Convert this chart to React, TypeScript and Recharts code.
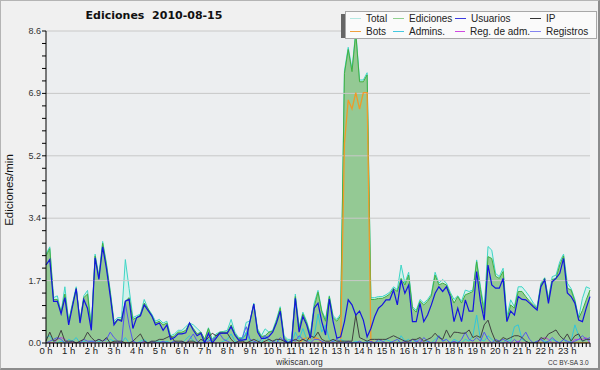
import { ComposedChart, Area, Line, XAxis, YAxis, CartesianGrid, ReferenceLine } from 'recharts';

// 10-minute buckets, 0 h .. 24 h
const hourLabels = [
    '0 h', '1 h', '2 h', '3 h', '4 h', '5 h', '6 h', '7 h', '8 h', '9 h', '10 h', '11 h',
    '12 h', '13 h', '14 h', '15 h', '16 h', '17 h', '18 h', '19 h', '20 h', '21 h', '22 h', '23 h',
];
const yLabels = ['0.0', '1.7', '3.4', '5.2', '6.9', '8.6'];
const yMajor = [0, 1.72, 3.44, 5.16, 6.88, 8.6];
const yMax = 8.6;

const total = [
    2.45, 2.65, 1.25, 1.3, 0.85, 1.55, 0.6, 1.1, 1.55, 0.6, 1.3, 1.45,
    0.45, 2.45, 1.85, 2.8, 2.2, 1.45, 0.6, 0.7, 0.7, 2.3, 1.5, 0.7,
    0.75, 0.8, 1.2, 0.95, 0.8, 0.6, 0.65, 0.55, 0.6, 0.2, 0.25, 0.35,
    0.35, 0.45, 0.55, 0.5, 0.4, 0.3, 0.1, 0.42, 0.1, 0.25, 0.3, 0.32,
    0.35, 0.65, 0.3, 0.15, 0.15, 0.57, 0.6, 1.1, 0.4, 0.2, 0.39, 0.3,
    0.35, 0.65, 1.0, 0.2, 0.1, 0.1, 1.35, 0.45, 0.85, 0.6, 0.25, 1.1,
    1.45, 0.9, 0.65, 1.3, 0.75, 0.65, 0.8, 7.5, 8.15, 7.55, 8.6, 7.25,
    7.25, 7.45, 1.25, 1.25, 1.28, 1.28, 1.33, 1.4, 1.55, 1.47, 2.15, 1.65,
    1.95, 1.0, 0.9, 1.2, 1.1, 1.2, 1.35, 1.95, 1.65, 1.75, 1.65, 1.4,
    1.2, 1.3, 1.15, 1.46, 1.42, 1.46, 2.29, 1.55, 0.96, 2.66, 2.56, 1.92,
    1.83, 2.06, 0.73, 1.19, 1.0, 1.55, 1.55, 1.42, 1.28, 1.1, 1.0, 1.65,
    1.8, 1.23, 1.83, 1.87, 2.24, 2.45, 1.65, 1.5, 1.2, 0.7, 1.23, 1.55,
    1.5,
];
const ediciones = [
    2.4, 2.6, 1.2, 1.2, 0.85, 1.35, 0.6, 1.05, 1.5, 0.6, 1.25, 1.35,
    0.4, 2.4, 1.8, 2.75, 2.15, 1.4, 0.55, 0.65, 0.65, 1.15, 1.25, 0.65,
    0.7, 0.78, 1.1, 0.95, 0.75, 0.55, 0.6, 0.5, 0.55, 0.15, 0.2, 0.3,
    0.3, 0.35, 0.55, 0.4, 0.25, 0.3, 0.1, 0.4, 0.05, 0.2, 0.3, 0.3,
    0.3, 0.5, 0.25, 0.12, 0.12, 0.25, 0.6, 1.07, 0.35, 0.18, 0.2, 0.3,
    0.32, 0.6, 0.96, 0.15, 0.05, 0.05, 1.28, 0.4, 0.8, 0.55, 0.2, 1.0,
    1.4, 0.86, 0.6, 1.28, 0.7, 0.6, 0.75, 7.43, 8.09, 7.48, 8.54, 7.2,
    7.2, 7.39, 1.2, 1.2, 1.23, 1.23, 1.28, 1.35, 1.5, 1.42, 1.78, 1.6,
    1.87, 0.96, 0.85, 1.15, 1.05, 1.15, 1.3, 1.87, 1.6, 1.65, 1.6, 1.35,
    1.1, 1.28, 1.1, 1.33, 1.37, 1.42, 2.24, 1.47, 0.82, 2.38, 2.33, 1.84,
    1.78, 1.97, 0.63, 1.05, 0.96, 1.42, 1.42, 1.28, 1.15, 1.05, 0.96, 1.6,
    1.78, 1.19, 1.75, 1.78, 2.15, 2.4, 1.51, 1.46, 1.15, 0.68, 0.9, 1.19,
    1.46,
];
const usuarios = [
    2.15, 2.3, 1.15, 1.15, 0.8, 1.25, 0.5, 1.0, 1.5, 0.55, 1.2, 0.95,
    0.35, 2.35, 1.75, 2.65, 2.05, 1.3, 0.5, 0.65, 0.6, 1.15, 1.2, 0.4,
    0.7, 0.75, 1.05, 0.9, 0.75, 0.5, 0.55, 0.35, 0.5, 0.1, 0.15, 0.25,
    0.25, 0.28, 0.55, 0.35, 0.2, 0.27, 0.0, 0.27, 0.0, 0.13, 0.27, 0.27,
    0.27, 0.45, 0.22, 0.08, 0.08, 0.1, 0.6, 1.07, 0.3, 0.13, 0.13, 0.18,
    0.3, 0.55, 0.88, 0.1, 0.0, 0.0, 1.23, 0.3, 0.73, 0.5, 0.13, 0.96,
    1.1, 0.59, 0.22, 1.21, 0.59, 0.13, 0.17, 0.59, 1.19, 1.05, 0.77, 0.88,
    0.63, 0.17, 0.4, 0.73, 0.96, 1.05, 1.19, 1.19, 1.46, 1.05, 1.74, 1.37,
    1.6, 0.59, 0.59, 1.09, 0.59, 0.77, 1.05, 1.37, 1.55, 1.42, 1.55, 1.28,
    0.59, 0.96, 0.59, 1.19, 0.88, 0.88, 1.97, 1.14, 0.63, 2.15, 1.6, 1.51,
    1.51, 1.78, 0.59, 0.88, 0.77, 1.28, 1.2, 1.19, 1.1, 1.0, 0.91, 1.55,
    1.74, 1.09, 1.69, 1.78, 1.92, 2.33, 1.38, 1.28, 1.1, 0.63, 0.59, 0.96,
    1.28,
];
const ip = [
    0.05, 0.3, 0.05, 0.1, 0.35, 0.05, 0.05, 0.05, 0.0, 0.05, 0.1, 0.3,
    0.15, 0.05, 0.1, 0.05, 0.15, 0.0, 0.05, 0.05, 0.05, 0.0, 0.0, 0.05,
    0.15, 0.25, 0.05, 0.0, 0.05, 0.05, 0.1, 0.1, 0.15, 0.2, 0.05, 0.05,
    0.05, 0.0, 0.05, 0.05, 0.0, 0.1, 0.05, 0.15, 0.27, 0.2, 0.27, 0.27,
    0.27, 0.1, 0.0, 0.05, 0.05, 0.0, 0.05, 0.1, 0.05, 0.0, 0.05, 0.1,
    0.05, 0.1, 0.1, 0.05, 0.0, 0.05, 0.1, 0.05, 0.1, 0.05, 0.2, 0.15,
    0.3, 0.1, 0.05, 0.05, 0.1, 0.05, 0.05, 0.05, 0.05, 0.05, 0.77, 0.15,
    0.1, 0.05, 0.1, 0.1, 0.1, 0.1, 0.1, 0.15, 0.2, 0.15, 0.1, 0.05,
    0.05, 0.1, 0.1, 0.15, 0.05, 0.1, 0.15, 0.27, 0.15, 0.1, 0.36, 0.15,
    0.3, 0.29, 0.27, 0.27, 0.36, 0.15, 0.2, 0.15, 0.5, 0.63, 0.3, 0.05,
    0.05, 0.15, 0.1, 0.15, 0.2, 0.2, 0.15, 0.05, 0.0, 0.0, 0.0, 0.15,
    0.1, 0.25, 0.3, 0.36, 0.2, 0.1, 0.25, 0.05, 0.2, 0.25, 0.05, 0.1,
    0.1,
];
const bots = [
    0, 0, 0, 0, 0, 0, 0, 0, 0, 0, 0, 0,
    0, 0, 0, 0, 0, 0, 0, 0, 0, 0, 0, 0,
    0, 0, 0, 0, 0, 0, 0, 0, 0, 0, 0, 0,
    0, 0, 0, 0, 0, 0, 0, 0, 0, 0, 0, 0,
    0, 0, 0, 0, 0, 0, 0, 0, 0, 0, 0, 0,
    0, 0, 0, 0, 0, 0, 0, 0, 0.1, 0.15, 0.08, 0.15,
    0.12, 0, 0, 0, 0, 0, 0.05, 5.5, 6.7, 6.45, 6.9, 6.45,
    6.9, 6.9, 0.05, 0, 0, 0, 0, 0, 0, 0, 0, 0,
    0, 0, 0, 0, 0, 0, 0, 0, 0, 0, 0, 0,
    0, 0, 0, 0, 0, 0, 0, 0, 0, 0, 0, 0,
    0, 0, 0, 0, 0, 0, 0, 0, 0, 0, 0, 0,
    0, 0, 0, 0, 0, 0, 0, 0, 0, 0, 0, 0,
    0,
];
const admins = [
    0.15, 0.2, 0.05, 0.0, 0.05, 0.0, 0.1, 0.05, 0.15, 0.0, 0.05, 0.0,
    0.05, 0.0, 0.05, 0.0, 0.0, 0.1, 0.05, 0.0, 0.0, 0.15, 0.0, 0.05,
    0.0, 0.05, 0.1, 0.0, 0.0, 0.05, 0.05, 0.0, 0.05, 0.0, 0.05, 0.0,
    0.0, 0.1, 0.2, 0.05, 0.0, 0.0, 0.05, 0.1, 0.0, 0.0, 0.0, 0.05,
    0.1, 0.25, 0.05, 0.0, 0.1, 0.3, 0.05, 0.0, 0.1, 0.0, 0.2, 0.05,
    0.0, 0.1, 0.0, 0.0, 0.05, 0.0, 0.3, 0.1, 0.4, 0.1, 0.05, 0.2,
    0.8, 0.3, 0.5, 0.1, 0.05, 0.0, 0.1, 0.05, 0.0, 0.0, 0.05, 0.0,
    0.0, 0.05, 0.0, 0.0, 0.05, 0.0, 0.1, 0.05, 0.0, 0.0, 0.2, 0.05,
    0.1, 0.0, 0.05, 0.1, 0.0, 0.05, 0.0, 0.1, 0.2, 0.05, 0.1, 0.0,
    0.1, 0.05, 0.0, 0.1, 0.05, 0.2, 0.77, 0.1, 0.05, 0.2, 0.1, 0.0,
    0.05, 0.0, 0.1, 0.05, 0.45, 0.5, 0.1, 0.05, 0.0, 0.0, 0.05, 0.1,
    0.05, 0.0, 0.1, 0.05, 0.0, 0.1, 0.0, 0.05, 0.5, 0.2, 0.05, 0.1,
    0.05,
];
const regAdm = [
    0, 0, 0, 0.1, 0.15, 0.1, 0, 0, 0, 0, 0, 0,
    0, 0, 0, 0, 0, 0, 0, 0, 0, 0, 0, 0,
    0, 0, 0, 0, 0, 0, 0, 0, 0, 0, 0, 0,
    0, 0, 0, 0, 0, 0, 0, 0, 0, 0, 0, 0,
    0, 0, 0, 0, 0, 0, 0, 0, 0, 0, 0, 0,
    0, 0, 0, 0, 0, 0, 0, 0, 0, 0, 0, 0,
    0, 0, 0, 0, 0, 0, 0, 0, 0, 0, 0, 0,
    0, 0, 0, 0, 0, 0, 0, 0, 0, 0, 0, 0,
    0, 0, 0, 0.1, 0, 0, 0, 0, 0, 0, 0, 0,
    0, 0, 0, 0, 0, 0, 0, 0, 0, 0, 0, 0,
    0, 0, 0, 0, 0, 0.05, 0, 0, 0, 0, 0, 0.1,
    0.15, 0.1, 0, 0, 0, 0, 0, 0, 0.1, 0.1, 0.1, 0.15,
    0,
];
const registros = [
    0.0, 0.05, 0.1, 0.15, 0.1, 0.0, 0.0, 0.05, 0.0, 0.0, 0.1, 0.05,
    0.05, 0.05, 0.1, 0.05, 0.1, 0.3, 0.15, 0.05, 0.0, 1.1, 0.5, 0.05,
    0.0, 0.0, 0.05, 0.0, 0.05, 0.0, 0.0, 0.05, 0.0, 0.0, 0.05, 0.0,
    0.05, 0.0, 0.1, 0.25, 0.05, 0.0, 0.0, 0.05, 0.1, 0.15, 0.25, 0.1,
    0.05, 0.0, 0.0, 0.05, 0.15, 0.45, 0.1, 0.05, 0.0, 0.1, 0.2, 0.1,
    0.05, 0.0, 0.15, 0.05, 0.0, 0.1, 0.05, 0.2, 0.1, 0.05, 0.0, 0.1,
    0.1, 0.05, 0.0, 0.0, 0.05, 0.1, 0.0, 0.0, 0.05, 0.0, 0.0, 0.05,
    0.0, 0.0, 0.05, 0.0, 0.1, 0.05, 0.0, 0.0, 0.05, 0.1, 0.0, 0.05,
    0.0, 0.1, 0.05, 0.0, 0.15, 0.05, 0.0, 0.0, 0.2, 0.05, 0.1, 0.0,
    0.05, 0.0, 0.1, 0.3, 0.1, 0.05, 0.15, 0.05, 0.3, 0.1, 0.0, 0.1,
    0.05, 0.1, 0.05, 0.0, 0.1, 0.0, 0.15, 0.3, 0.1, 0.0, 0.05, 0.1,
    0.0, 0.05, 0.15, 0.05, 0.0, 0.1, 0.05, 0.0, 0.05, 0.1, 0.2, 0.1,
    0.15,
];

const data = total.map((t, i) => ({
    i,
    total: t,
    ediciones: ediciones[i],
    usuarios: usuarios[i],
    ip: ip[i],
    bots: bots[i],
    admins: admins[i],
    regAdm: regAdm[i],
    registros: registros[i],
}));

const legendItems = [
    { name: 'Total', color: '#b4e8e2' },
    { name: 'Ediciones', color: '#8fd08f' },
    { name: 'Usuarios', color: '#3a3ae0' },
    { name: 'IP', color: '#333333' },
    { name: 'Bots', color: '#f0a040' },
    { name: 'Admins.', color: '#44c8e0' },
    { name: 'Reg. de adm.', color: '#d048e0' },
    { name: 'Registros', color: '#8484f0' },
];
const legendCols = [43, 62, 75, 62];

const xTicks = Array.from({ length: 145 }, (_, i) => i);
const yStep = yMax / 25;
const yTicks = Array.from({ length: 26 }, (_, k) => +(k * yStep).toFixed(4));

const sans = '"Liberation Sans", Arial, sans-serif';

const XTick = ({ x, y, payload }: any) => {
    const v = payload.value;
    if (v % 6 !== 0 || v >= 144) return <g />;
    return (
        <text x={x} y={y + 5} textAnchor="middle" fontSize={9.5} fill="#222" fontFamily={sans}>
            {hourLabels[v / 6]}
        </text>
    );
};

const YTick = ({ x, y, payload }: any) => {
    const k = Math.round(payload.value / yStep);
    if (k % 5 !== 0) return <g />;
    return (
        <text x={x + 1} y={y + 3} textAnchor="end" fontSize={9} fill="#333" fontFamily={sans}>
            {yLabels[k / 5]}
        </text>
    );
};

export default function App() {
    return (
        <div
            style={{
                position: 'absolute',
                left: 0,
                top: 0,
                width: 600,
                height: 370,
                background: '#f0f0f0',
                fontFamily: sans,
            }}
        >
            <ComposedChart width={600} height={370} data={data} margin={{ top: 31, right: 10, bottom: 0, left: 0 }}>
                <CartesianGrid horizontal={false} vertical={false} fill="#eceef0" fillOpacity={1} />
                {yMajor.map((v) => (
                    <ReferenceLine key={v} y={v} stroke="#c8c8c8" strokeWidth={1} />
                ))}
                <XAxis
                    dataKey="i"
                    type="number"
                    domain={[0, 144]}
                    ticks={xTicks}
                    interval={0}
                    height={27}
                    tickSize={4}
                    tickMargin={2}
                    axisLine={{ stroke: '#000' }}
                    tickLine={{ stroke: '#000' }}
                    tick={XTick}
                />
                <YAxis
                    type="number"
                    domain={[0, yMax]}
                    ticks={yTicks}
                    interval={0}
                    width={46}
                    tickSize={4}
                    tickMargin={2}
                    axisLine={{ stroke: '#000' }}
                    tickLine={{ stroke: '#000' }}
                    tick={YTick}
                    allowDataOverflow
                />
                <Area type="linear" dataKey="total" stroke="#3ed6c6" strokeWidth={1} fill="#d2f1ec" fillOpacity={1} dot={false} isAnimationActive={false} />
                <Area type="linear" dataKey="ediciones" stroke="#40b040" strokeWidth={1} fill="#94c994" fillOpacity={1} dot={false} isAnimationActive={false} />
                <Line type="linear" dataKey="bots" stroke="#f09a28" strokeWidth={1.3} dot={false} isAnimationActive={false} />
                <Line type="linear" dataKey="admins" stroke="#30c6dc" strokeWidth={1} dot={false} isAnimationActive={false} />
                <Line type="linear" dataKey="regAdm" stroke="#c040e0" strokeWidth={1} dot={false} isAnimationActive={false} />
                <Line type="linear" dataKey="registros" stroke="#5656f0" strokeWidth={1} dot={false} isAnimationActive={false} />
                <Line type="linear" dataKey="ip" stroke="#404040" strokeWidth={1} dot={false} isAnimationActive={false} />
                <Line type="linear" dataKey="usuarios" stroke="#1414e0" strokeWidth={1.2} dot={false} isAnimationActive={false} />
            </ComposedChart>

            {/* title */}
            <div
                style={{
                    position: 'absolute',
                    left: 54,
                    top: 9,
                    width: 200,
                    textAlign: 'center',
                    fontFamily: '"DejaVu Sans", sans-serif',
                    fontWeight: 'bold',
                    fontSize: 11,
                    color: '#111',
                    whiteSpace: 'pre',
                }}
            >
                {'Ediciones  2010-08-15'}
            </div>

            {/* y axis label */}
            <div
                style={{
                    position: 'absolute',
                    left: 9,
                    top: 190,
                    transform: 'translate(-50%, -50%) rotate(-90deg)',
                    fontSize: 11.5,
                    color: '#111',
                    whiteSpace: 'nowrap',
                }}
            >
                Ediciones/min
            </div>

            {/* legend */}
            <div style={{ position: 'absolute', left: 341, top: 14, width: 4, height: 24, background: '#666' }} />
            <div
                style={{
                    position: 'absolute',
                    left: 345,
                    top: 11,
                    width: 246,
                    height: 25,
                    background: '#fafafa',
                    border: '1px solid #a8a8a8',
                    display: 'grid',
                    gridTemplateColumns: legendCols.map((w) => w + 'px').join(' '),
                    paddingLeft: 4,
                    paddingTop: 1,
                    boxSizing: 'content-box',
                }}
            >
                {legendItems.map((it) => (
                    <div key={it.name} style={{ display: 'flex', alignItems: 'center', height: 11, fontSize: 10, color: '#222', whiteSpace: 'nowrap' }}>
                        <span style={{ display: 'inline-block', width: 11, height: 1, background: it.color, marginRight: 5 }} />
                        {it.name}
                    </div>
                ))}
            </div>

            {/* footer */}
            <div style={{ position: 'absolute', left: 276, top: 358, fontSize: 8.5, lineHeight: '9px', color: '#333' }}>wikiscan.org</div>
            <div style={{ position: 'absolute', left: 548, top: 359, fontSize: 6.5, lineHeight: '7px', color: '#333' }}>CC BY-SA 3.0</div>

            {/* frame */}
            <div
                style={{
                    position: 'absolute',
                    left: 0,
                    top: 0,
                    width: 600,
                    height: 370,
                    boxSizing: 'border-box',
                    borderTop: '1px solid #b4b4b4',
                    borderLeft: '1px solid #b4b4b4',
                    borderRight: '2px solid #8c8c8c',
                    borderBottom: '2px solid #8c8c8c',
                    pointerEvents: 'none',
                }}
            />
        </div>
    );
}
